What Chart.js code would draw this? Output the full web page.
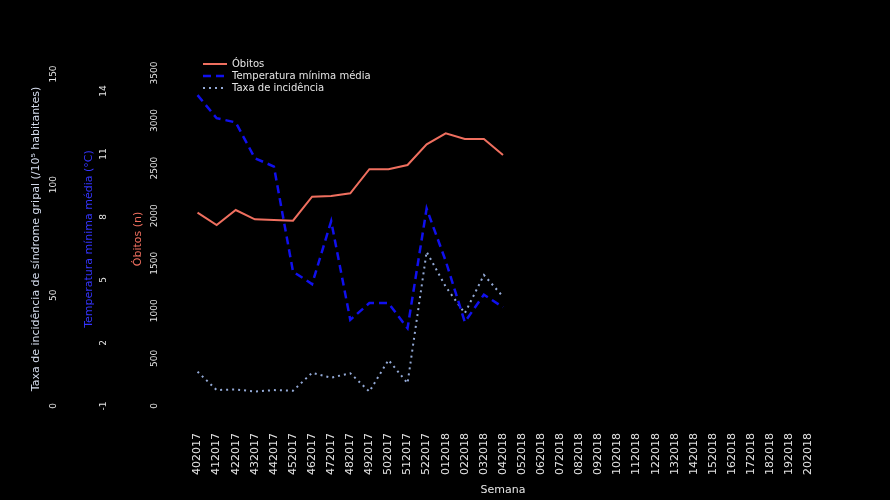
<!DOCTYPE html>
<html lang="pt">
<head>
<meta charset="utf-8">
<title>Óbitos, temperatura e incidência</title>
<script src="https://cdn.jsdelivr.net/npm/chart.js@4.4.1/dist/chart.umd.min.js"></script>
<style>
    html, body { margin: 0; padding: 0; background: #000; }
    canvas { display: block; }
</style>
</head>
<body>
<canvas id="grafico" width="890" height="500"></canvas>
<script>
// Semanas (semana + ano)
const semanas = [
    '402017', '412017', '422017', '432017', '442017', '452017', '462017', '472017', '482017',
    '492017', '502017', '512017', '522017', '012018', '022018', '032018', '042018', '052018',
    '062018', '072018', '082018', '092018', '102018', '112018', '122018', '132018', '142018',
    '152018', '162018', '172018', '182018', '192018', '202018'
];

const obitos = [2032, 1902, 2060, 1962, 1955, 1948, 2200, 2207, 2235, 2488, 2488, 2533, 2750, 2866, 2806, 2806, 2638];
const temperaturaMinima = [13.8, 12.7, 12.5, 10.8, 10.4, 5.4, 4.8, 7.8, 3.1, 3.9, 3.9, 2.7, 8.4, 5.9, 3.0, 4.3, 3.7];
const taxaIncidencia = [15.5, 7.2, 7.5, 6.5, 7.2, 6.9, 15.0, 12.8, 14.8, 6.5, 20.8, 10.3, 69.7, 53.9, 41.9, 59.2, 49.4];

// Marcas dos eixos
const ticksObitos = [0, 500, 1000, 1500, 2000, 2500, 3000, 3500];
const ticksTemperatura = [-1, 2, 5, 8, 11, 14];
const ticksIncidencia = [0, 50, 100, 150];

const corObitos = '#ef6f5f';
const corTemperatura = '#1010ee';
const corIncidencia = '#93a9d6';
const corTexto = '#e4e4e4';

// Legenda dentro da área do gráfico, canto superior esquerdo
const moverLegenda = {
    id: 'moverLegenda',
    afterLayout(chart) {
        chart.legend.left = chart.chartArea.left + 13;
        chart.legend.top = chart.chartArea.top - 15;
    }
};

function eixoY(titulo, cor, minimo, maximo, marcas, peso, largura, padTick) {
    return {
        type: 'linear',
        position: 'left',
        weight: peso,
        min: minimo,
        max: maximo,
        afterBuildTicks: axis => { axis.ticks = marcas.map(v => ({ value: v })); },
        afterFit: axis => { axis.width = largura; },
        grid: { display: false, drawTicks: false },
        border: { display: false },
        ticks: {
            color: corTexto,
            font: { family: 'DejaVu Sans', size: 9 },
            minRotation: 90,
            maxRotation: 90,
            crossAlign: 'center',
            padding: padTick,
            callback: v => String(v)
        },
        title: {
            display: true,
            text: titulo,
            color: cor,
            font: { family: 'DejaVu Sans', size: 11 },
            padding: { top: 0, bottom: 0 }
        }
    };
}

const ctx = document.getElementById('grafico').getContext('2d');

new Chart(ctx, {
    type: 'line',
    data: {
        labels: semanas,
        datasets: [
            {
                label: 'Óbitos',
                data: obitos,
                yAxisID: 'yObitos',
                borderColor: corObitos,
                backgroundColor: corObitos,
                borderWidth: 2,
                pointRadius: 0,
                tension: 0
            },
            {
                label: 'Temperatura mínima média',
                data: temperaturaMinima,
                yAxisID: 'yTemperatura',
                borderColor: corTemperatura,
                backgroundColor: corTemperatura,
                borderWidth: 2.5,
                borderDash: [8, 5],
                pointRadius: 0,
                tension: 0
            },
            {
                label: 'Taxa de incidência',
                data: taxaIncidencia,
                yAxisID: 'yIncidencia',
                borderColor: corIncidencia,
                backgroundColor: corIncidencia,
                borderWidth: 2,
                borderDash: [2, 4],
                pointRadius: 0,
                tension: 0
            }
        ]
    },
    options: {
        responsive: false,
        animation: false,
        layout: {
            padding: { left: 30, top: 72, right: 72, bottom: 3 }
        },
        plugins: {
            legend: {
                position: 'chartArea',
                align: 'start',
                labels: {
                    color: corTexto,
                    font: { family: 'DejaVu Sans', size: 10 },
                    usePointStyle: true,
                    pointStyleWidth: 24,
                    padding: 2,
                    generateLabels: chart => chart.data.datasets.map((ds, i) => ({
                        text: ds.label,
                        datasetIndex: i,
                        fillStyle: ds.borderColor,
                        strokeStyle: ds.borderColor,
                        lineWidth: ds.borderWidth,
                        lineDash: ds.borderDash || [],
                        pointStyle: 'line',
                        fontColor: corTexto,
                        hidden: false
                    }))
                }
            },
            tooltip: { enabled: false }
        },
        scales: {
            x: {
                offset: true,
                afterFit: axis => { axis.height = 91; },
                grid: { display: false, drawTicks: false },
                border: { display: false },
                ticks: {
                    color: corTexto,
                    font: { family: 'DejaVu Sans', size: 11 },
                    minRotation: 90,
                    maxRotation: 90,
                    autoSkip: false,
                    padding: 27
                },
                title: {
                    display: true,
                    text: 'Semana',
                    color: corTexto,
                    font: { family: 'DejaVu Sans', size: 11 },
                    padding: { top: 6, bottom: 0 }
                }
            },
            yObitos: eixoY('Óbitos (n)', corObitos, 0, 3510, ticksObitos, 0, 56, 22),
            yTemperatura: eixoY('Temperatura mínima média (°C)', '#3535ff', -1, 14.9, ticksTemperatura, 1, 49.5, 22.5),
            yIncidencia: eixoY('Taxa de incidência de síndrome gripal (/10⁵ habitantes)', '#d6deef', 0, 150.9, ticksIncidencia, 2, 52.5, 20)
        }
    },
    plugins: [moverLegenda]
});
</script>
</body>
</html>
